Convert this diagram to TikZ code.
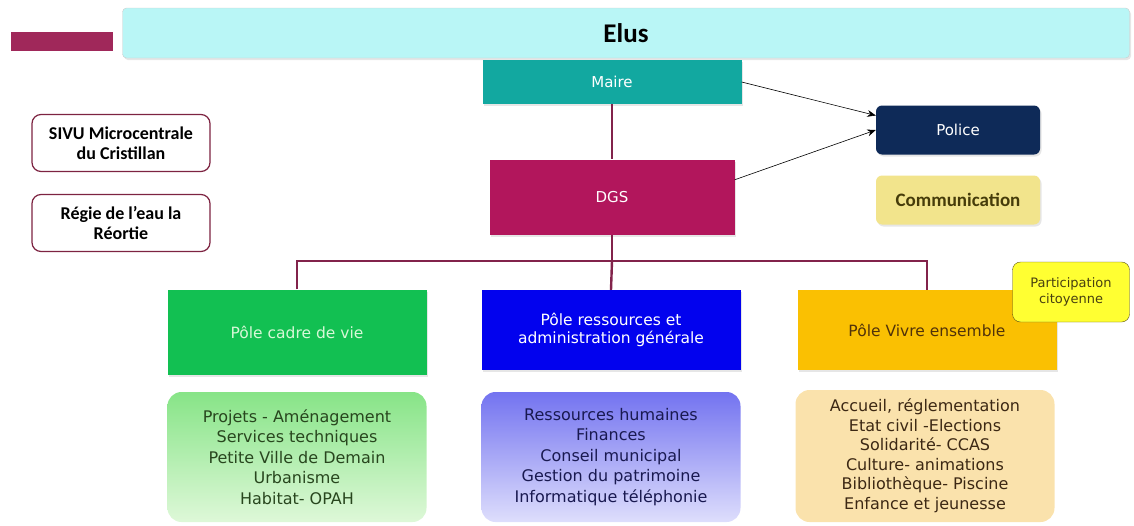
\documentclass[tikz,border=0pt]{standalone}
\usepackage{fontspec}
\setmainfont{DejaVu Sans}
\newfontfamily\calfont{Carlito}
\usepackage{tikz}
\usetikzlibrary{arrows.meta,calc,shadows}
\definecolor{cBar}   {RGB}{160,40,90}
\definecolor{cElus}  {RGB}{185,246,246}
\definecolor{cMaire} {RGB}{18,168,160}
\definecolor{cDGS}   {RGB}{178,22,92}
\definecolor{cPolice}{RGB}{14,42,88}
\definecolor{cComm}  {RGB}{242,228,140}
\definecolor{cCommT} {RGB}{70,60,10}
\definecolor{cExt}   {RGB}{125,35,65}
\definecolor{cLink}  {RGB}{130,35,75}
\definecolor{cCadre} {RGB}{18,192,82}
\definecolor{cCadreT}{RGB}{215,248,215}
\definecolor{cRess}  {RGB}{2,2,238}
\definecolor{cVivre} {RGB}{250,192,2}
\definecolor{cVivreT}{RGB}{80,50,10}
\definecolor{cPart}  {RGB}{255,255,50}
\definecolor{cPartD} {RGB}{90,80,20}
\definecolor{cGrTop} {RGB}{135,228,135}
\definecolor{cGrBot} {RGB}{222,248,216}
\definecolor{cGrT}   {RGB}{40,70,30}
\definecolor{cBlTop} {RGB}{115,115,240}
\definecolor{cBlBot} {RGB}{222,222,252}
\definecolor{cBlT}   {RGB}{25,25,80}
\definecolor{cYeS}   {RGB}{250,226,172}
\definecolor{cYeT}   {RGB}{60,40,20}
\tikzset{
  >={Stealth[length=3mm,width=2.4mm]},
  shad/.style={drop shadow={opacity=0.2,shadow xshift=1.5pt,shadow yshift=-2pt}},
  elus/.style={draw=gray!40,fill=cElus,rounded corners=4pt,shad,
               minimum width=1007pt,minimum height=50pt,font=\calfont\bfseries\fontsize{27}{30}\selectfont},
  head/.style={fill=cMaire,text=white,shad,minimum width=259pt,minimum height=44pt,
               font=\fontsize{15}{18}\selectfont},                       % Maire / DGS
  side/.style={rounded corners=6pt,shad,minimum width=164pt,minimum height=49pt,
               font=\fontsize{15}{18}\selectfont},                       % Police / Communication
  ext/.style={draw=cExt,very thick,fill=white,rounded corners=9pt,align=center,
              minimum width=178pt,minimum height=57pt,
              font=\calfont\bfseries\fontsize{18}{20}\selectfont},     % SIVU / Regie
  pole/.style={shad,align=center,minimum width=259pt,minimum height=80pt,
               font=\fontsize{15.5}{18}\selectfont},
  part/.style={draw=cPartD,fill=cPart,rounded corners=8pt,align=center,
               minimum width=117pt,minimum height=60pt,text=cPartD!80!black,
               font=\fontsize{13}{16}\selectfont},
  serv/.style={rounded corners=14pt,align=center,minimum width=259pt,minimum height=130pt,
               font=\fontsize{16}{20.5}\selectfont},                     % service lists
  link/.style={-,cLink,line width=2.4pt},
}
\begin{document}
\begin{tikzpicture}[x=1pt,y=-1pt]
  \useasboundingbox (0,0) rectangle (1134,525);
  % top band
  \fill[cBar] (11,32) rectangle (113,51);
  \node[elus] (elus) at (626,33) {Elus};
  \node[head] (maire) at (612,82) {Maire};
  \node[head,fill=cDGS,minimum width=245pt,minimum height=75pt] (dgs) at (612,197) {DGS};
  \node[side,fill=cPolice,text=white] (police) at (958,130) {Police};
  \node[side,fill=cComm,text=cCommT,font=\calfont\bfseries\fontsize{19}{22}\selectfont] (comm) at (958,200) {Communication};
  % external bodies
  \node[ext] (sivu)  at (121,143) {SIVU Microcentrale\\du Cristillan};
  \node[ext] (regie) at (121,223) {Régie de l’eau la\\Réortie};
  % poles
  \node[pole,fill=cCadre,text=cCadreT,minimum height=85pt] (cadre) at (297,332) {Pôle cadre de vie};
  \node[pole,fill=cRess,text=white] (ress) at (611,330) {Pôle ressources et\\administration générale};
  \node[pole,fill=cVivre,text=cVivreT] (vivre) at (927,330) {Pôle Vivre ensemble};
  \node[part] (part) at (1071,292) {Participation\\citoyenne};
  % services
  \node[serv,top color=cGrTop,bottom color=cGrBot,text=cGrT] (servCadre) at (297,457)
    {Projets - Aménagement\\Services techniques\\Petite Ville de Demain\\Urbanisme\\Habitat- OPAH};
  \node[serv,top color=cBlTop,bottom color=cBlBot,text=cBlT] (servRess) at (611,457)
    {Ressources humaines\\Finances\\Conseil municipal\\Gestion du patrimoine\\Informatique téléphonie};
  \node[serv,fill=cYeS,text=cYeT,minimum height=132pt,font=\fontsize{16}{19.5}\selectfont] (servVivre) at (925,456)
    {Accueil, réglementation\\Etat civil -Elections\\Solidarité- CCAS\\Culture- animations\\Bibliothèque- Piscine\\Enfance et jeunesse};
  % connectors
  \draw[link] (maire) -- (dgs);
  \coordinate (bus) at (612,261);
  \draw[link] (dgs) -- (bus);
  \draw[link] (cadre.north) |- (bus) -| (vivre.north);
  \draw[link] (bus) -- (ress.north);
  \draw[->,semithick] (maire.east) -- (police.170);
  \draw[->,semithick] (dgs.8) -- (police.west);
\end{tikzpicture}
\end{document}
